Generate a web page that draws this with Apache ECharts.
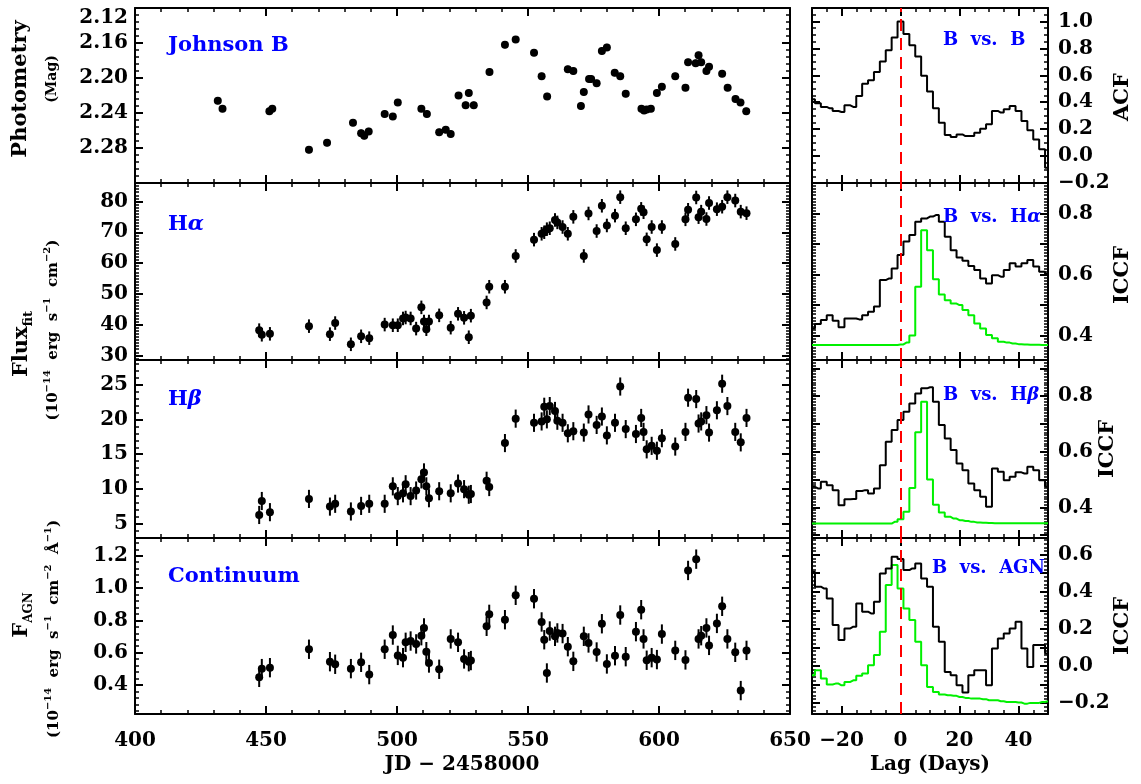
<!DOCTYPE html>
<html>
<head>
<meta charset="utf-8">
<title>Light curves and CCF</title>
<script src="https://cdn.jsdelivr.net/npm/echarts@6/dist/echarts.min.js"></script>
<style>
html, body { margin: 0; padding: 0; background: #fff; }
#chart { width: 1141px; height: 784px; }
</style>
</head>
<body>
<div id="chart"></div>
<script>
// ---- light curves (JD - 2458000) ----
const jdPhot = [431.6, 433.4, 451.3, 452.4, 466.4, 473.3, 483.2, 486.3, 487.5, 489.2,
  495.3, 498.4, 500.3, 509.3, 511.4, 516.1, 518.6, 520.5, 523.5, 526.2,
  527.4, 529.3, 535.3, 541.2, 545.3, 552.3, 555.2, 557.3, 565.2, 567.3,
  570.2, 571.3, 573.3, 574.1, 576.2, 578.2, 580.1, 583.1, 585.2, 587.3,
  593.3, 594.3, 595.3, 596.9, 599.2, 601.1, 606.2, 610.1, 611.1, 614.0,
  615.1, 616.1, 618.1, 619.1, 624.1, 626.2, 629.2, 631.1, 633.3];
const magB = [2.226, 2.235, 2.238, 2.235, 2.282, 2.274, 2.251, 2.263, 2.266, 2.261,
  2.241, 2.244, 2.228, 2.235, 2.241, 2.262, 2.259, 2.264, 2.220, 2.231,
  2.217, 2.231, 2.193, 2.162, 2.156, 2.171, 2.198, 2.221, 2.190, 2.192,
  2.232, 2.216, 2.201, 2.201, 2.206, 2.169, 2.165, 2.194, 2.198, 2.218,
  2.235, 2.237, 2.236, 2.235, 2.217, 2.210, 2.198, 2.211, 2.182, 2.183,
  2.174, 2.182, 2.192, 2.187, 2.195, 2.211, 2.224, 2.228, 2.238];

const jdSpec = [447.4, 448.4, 451.5, 466.4, 474.4, 476.4, 482.4, 486.3, 489.4, 495.3,
  498.4, 500.3, 502.3, 503.3, 505.2, 507.3, 509.3, 510.3, 511.2, 512.2,
  516.1, 520.5, 523.3, 525.6, 527.4, 528.2, 534.2, 535.2, 541.2, 545.3,
  552.3, 555.2, 556.2, 557.2, 558.3, 560.3, 561.2, 563.2, 565.2, 567.3,
  571.3, 573.1, 576.2, 578.2, 580.1, 583.2, 585.2, 587.3, 591.2, 593.2,
  594.1, 595.3, 597.2, 599.2, 601.1, 606.2, 610.1, 611.1, 614.2, 615.1,
  616.1, 618.1, 619.1, 622.1, 624.1, 626.1, 629.1, 631.2, 633.4];
const fluxHa = [38.2, 36.7, 37.0, 39.5, 36.9, 40.5, 33.6, 36.2, 35.6, 40.0,
  39.8, 39.8, 42.0, 42.3, 42.0, 38.7, 45.6, 41.0, 38.5, 41.0,
  43.0, 39.0, 43.5, 42.2, 35.9, 42.9, 47.2, 52.3, 52.3, 62.3,
  67.6, 69.5, 70.0, 71.0, 71.3, 74.0, 73.2, 71.7, 69.5, 75.0,
  62.3, 76.1, 70.4, 78.6, 72.2, 75.4, 81.4, 71.3, 74.2, 77.6,
  76.5, 67.7, 71.7, 64.2, 71.7, 66.2, 74.2, 77.3, 81.3, 74.9,
  76.7, 74.3, 79.5, 77.5, 78.3, 81.4, 80.3, 76.7, 76.2];
const fluxHb = [6.3, 8.3, 6.7, 8.6, 7.5, 7.9, 6.8, 7.6, 7.9, 7.9,
  10.4, 9.0, 9.4, 10.7, 9.0, 9.8, 11.4, 12.4, 10.4, 8.7,
  9.7, 9.4, 10.8, 10.0, 9.2, 9.3, 11.2, 10.3, 16.6, 20.1,
  19.5, 19.7, 21.8, 20.0, 21.9, 21.2, 19.8, 19.5, 18.0, 18.3,
  18.1, 20.7, 19.2, 20.4, 17.7, 19.5, 24.7, 18.6, 17.9, 20.2,
  18.2, 15.7, 16.2, 15.5, 17.3, 16.1, 18.2, 23.1, 22.9, 19.4,
  19.7, 20.6, 18.1, 21.3, 25.1, 21.9, 18.2, 16.7, 20.2];
const fluxAgn = [0.447, 0.501, 0.507, 0.621, 0.544, 0.528, 0.501, 0.540, 0.464, 0.621,
  0.709, 0.583, 0.569, 0.664, 0.672, 0.654, 0.705, 0.753, 0.606, 0.536,
  0.497, 0.685, 0.664, 0.561, 0.544, 0.551, 0.763, 0.837, 0.804, 0.955,
  0.934, 0.790, 0.680, 0.474, 0.734, 0.701, 0.722, 0.718, 0.637, 0.546,
  0.701, 0.660, 0.604, 0.779, 0.530, 0.581, 0.833, 0.575, 0.730, 0.866,
  0.685, 0.553, 0.569, 0.557, 0.715, 0.614, 0.555, 1.109, 1.179, 0.685,
  0.705, 0.753, 0.645, 0.781, 0.887, 0.685, 0.602, 0.365, 0.614];
// typical error bar half-lengths
const errB = 0.004, errHa = 2.2, errHb = 1.3, errAgn = 0.06;

// ---- correlation functions ----
const lags = [-30, -28, -26, -24, -22, -20, -18, -16, -14, -12, -10, -8, -6, -4, -2,
  0, 2, 4, 6, 8, 10, 12, 14, 16, 18, 20, 22, 24, 26, 28, 30, 32, 34, 36, 38, 40,
  42, 44, 46, 48, 50];
const acfB = [0.422, 0.392, 0.365, 0.355, 0.335, 0.328, 0.377, 0.365, 0.447, 0.538,
  0.563, 0.625, 0.702, 0.787, 0.881, 1.000, 0.906, 0.824, 0.739, 0.596,
  0.479, 0.355, 0.248, 0.156, 0.141, 0.161, 0.149, 0.149, 0.174, 0.203,
  0.236, 0.335, 0.323, 0.347, 0.372, 0.335, 0.261, 0.191, 0.124, 0.050, -0.087];
const iccfHa = [0.423, 0.438, 0.451, 0.467, 0.449, 0.427, 0.456, 0.456, 0.453, 0.467,
  0.478, 0.495, 0.582, 0.587, 0.620, 0.664, 0.708, 0.730, 0.773, 0.784,
  0.790, 0.795, 0.773, 0.724, 0.680, 0.656, 0.645, 0.628, 0.615, 0.587,
  0.571, 0.598, 0.593, 0.615, 0.637, 0.626, 0.637, 0.648, 0.626, 0.609, 0.602];
const cccdHa = [0.369, 0.369, 0.369, 0.369, 0.369, 0.369, 0.369, 0.369, 0.369, 0.369,
  0.369, 0.369, 0.369, 0.369, 0.369, 0.371, 0.377, 0.400, 0.560, 0.745,
  0.680, 0.585, 0.535, 0.516, 0.505, 0.500, 0.484, 0.467, 0.440, 0.423,
  0.402, 0.391, 0.380, 0.377, 0.374, 0.372, 0.371, 0.370, 0.370, 0.369, 0.369];
const iccfHb = [0.474, 0.468, 0.492, 0.480, 0.462, 0.408, 0.429, 0.430, 0.459, 0.462,
  0.450, 0.468, 0.552, 0.636, 0.678, 0.714, 0.744, 0.774, 0.810, 0.828,
  0.832, 0.780, 0.696, 0.648, 0.606, 0.558, 0.534, 0.486, 0.462, 0.438,
  0.402, 0.540, 0.528, 0.498, 0.510, 0.526, 0.522, 0.546, 0.534, 0.498, 0.474];
const cccdHb = [0.342, 0.342, 0.342, 0.342, 0.342, 0.342, 0.342, 0.342, 0.342, 0.342,
  0.342, 0.342, 0.342, 0.342, 0.348, 0.357, 0.384, 0.470, 0.670, 0.780,
  0.500, 0.410, 0.382, 0.366, 0.360, 0.354, 0.351, 0.348, 0.346, 0.345,
  0.344, 0.343, 0.343, 0.343, 0.343, 0.343, 0.343, 0.343, 0.343, 0.343, 0.343];
const iccfAgn = [0.508, 0.427, 0.418, 0.364, 0.220, 0.139, 0.202, 0.211, 0.337, 0.292,
  0.283, 0.346, 0.499, 0.526, 0.589, 0.576, 0.517, 0.526, 0.553, 0.472,
  0.427, 0.211, 0.130, -0.033, -0.051, -0.105, -0.144, -0.051, -0.024, -0.024,
  -0.105, 0.094, 0.148, 0.175, 0.202, 0.238, 0.094, -0.006, 0.112, 0.112, 0.067];
const cccdAgn = [-0.051, -0.024, -0.069, -0.101, -0.096, -0.105, -0.087, -0.078, -0.054, -0.042,
  0.003, 0.058, 0.184, 0.436, 0.544, 0.418, 0.310, 0.247, 0.130, 0.003,
  -0.114, -0.141, -0.155, -0.159, -0.162, -0.168, -0.173, -0.177, -0.177, -0.180,
  -0.186, -0.186, -0.191, -0.195, -0.195, -0.198, -0.204, -0.200, -0.200, -0.195, -0.191];

const FONT = '"DejaVu Serif"';
const MINUS = '\u2212';

function zip(xs, ys) { return xs.map((x, i) => [x, ys[i]]); }
function signed(s) { return s.charAt(0) === '-' ? MINUS + s.slice(1) : s; }
// label only on multiples of step (k tenths)
function everyTenth(k, digits) {
    return function (v) {
        let n = v * 10 / k;
        if (Math.abs(n - Math.round(n)) > 1e-6) return '';
        return signed((Math.round(n) * k / 10).toFixed(digits));
    };
}
function everyN(n) {
    return function (v) {
        let q = v / n;
        if (Math.abs(q - Math.round(q)) > 1e-6) return '';
        return String(Math.round(v));
    };
}

// rows: top, height
const rows = [[8, 175], [183, 177], [360, 178], [538, 176]];
const grids = [];
rows.forEach(r => grids.push({ left: 135, top: r[0], width: 655, height: r[1], outerBoundsMode: 'none' }));
rows.forEach(r => grids.push({ left: 812, top: r[0], width: 236, height: r[1], outerBoundsMode: 'none' }));

function axis(gi, pos, sc, showLabel) {
    let ax = {
        type: 'value',
        gridIndex: gi,
        position: pos,
        min: sc.min,
        max: sc.max,
        inverse: !!sc.inverse,
        axisLine: { show: true, onZero: false, lineStyle: { color: '#000', width: 2 } },
        axisTick: { show: true, inside: true, length: 8, lineStyle: { color: '#000', width: 2 } },
        minorTick: { show: true, splitNumber: sc.minor, length: 4, lineStyle: { color: '#000', width: 1.5 } },
        splitLine: { show: false },
        minorSplitLine: { show: false },
        axisLabel: { show: false }
    };
    if (sc.interval != null) ax.interval = sc.interval;
    else ax.splitNumber = sc.split;
    if (showLabel) {
        ax.axisLabel = {
            show: true,
            formatter: sc.fmt,
            color: '#000',
            fontFamily: FONT,
            fontWeight: 'bold',
            fontSize: 20,
            margin: sc.margin,
            showMinLabel: sc.showMin,
            showMaxLabel: sc.showMax
        };
        if (sc.vMin) ax.axisLabel.verticalAlignMinLabel = sc.vMin;
    }
    return ax;
}

const xJd = { min: 400, max: 650, interval: 50, minor: 5, margin: 17, fmt: v => String(v), showMin: true, showMax: true };
const xLag = { min: -30, max: 50, split: 4, minor: 4, margin: 17, fmt: everyN(20), showMin: false, showMax: false };
const xLagSigned = Object.assign({}, xLag, { fmt: v => signed(everyN(20)(v)) });

const yLeft = [
    { min: 2.12, max: 2.32, interval: 0.04, minor: 5, inverse: true, margin: 7, fmt: v => v.toFixed(2), showMin: true, showMax: false, vMin: 'top' },
    { min: 28.5, max: 86, split: 5, minor: 10, margin: 7, fmt: everyN(10), showMin: false, showMax: false },
    { min: 3, max: 28.5, split: 5, minor: 5, margin: 7, fmt: everyN(5), showMin: false, showMax: false },
    { min: 0.22, max: 1.31, split: 5, minor: 5, margin: 7, fmt: everyTenth(2, 1), showMin: false, showMax: false }
];
const yRight = [
    { min: -0.2, max: 1.1, interval: 0.2, minor: 4, margin: 10, fmt: everyTenth(2, 1), showMin: true, showMax: false },
    { min: 0.32, max: 0.9, split: 6, minor: 10, margin: 10, fmt: everyTenth(2, 1), showMin: false, showMax: false },
    { min: 0.29, max: 0.93, split: 6, minor: 10, margin: 10, fmt: everyTenth(2, 1), showMin: false, showMax: false },
    { min: -0.26, max: 0.69, split: 10, minor: 5, margin: 10, fmt: everyTenth(2, 1), showMin: false, showMax: false }
];

const xAxes = [], yAxes = [];
for (let i = 0; i < 4; i++) {
    xAxes.push(axis(i, 'bottom', xJd, i === 3));
    xAxes.push(axis(i, 'top', xJd, false));
    yAxes.push(axis(i, 'left', yLeft[i], true));
    yAxes.push(axis(i, 'right', yLeft[i], false));
}
for (let i = 0; i < 4; i++) {
    let g = 4 + i;
    xAxes.push(axis(g, 'bottom', xLagSigned, i === 3));
    xAxes.push(axis(g, 'top', xLag, false));
    yAxes.push(axis(g, 'left', yRight[i], false));
    yAxes.push(axis(g, 'right', yRight[i], true));
}

function errorBars(gi, xs, ys, err) {
    return {
        type: 'custom',
        xAxisIndex: 2 * gi,
        yAxisIndex: 2 * gi,
        silent: true,
        z: 2,
        data: zip(xs, ys),
        renderItem: function (params, api) {
            let x = api.value(0), y = api.value(1);
            let a = api.coord([x, y - err]);
            let b = api.coord([x, y + err]);
            return {
                type: 'line',
                shape: { x1: a[0], y1: a[1], x2: b[0], y2: b[1] },
                style: { stroke: '#000', lineWidth: 2 }
            };
        }
    };
}
function points(gi, xs, ys) {
    return {
        type: 'scatter',
        xAxisIndex: 2 * gi,
        yAxisIndex: 2 * gi,
        symbol: 'circle',
        symbolSize: 8,
        itemStyle: { color: '#000', opacity: 1 },
        silent: true,
        z: 3,
        data: zip(xs, ys)
    };
}
function stepLine(gi, ys, color, withZero) {
    let s = {
        type: 'line',
        xAxisIndex: 2 * gi,
        yAxisIndex: 2 * gi + 1,
        step: 'middle',
        showSymbol: false,
        silent: true,
        lineStyle: { color: color, width: 2 },
        data: zip(lags, ys),
        z: color === '#000' ? 3 : 2
    };
    if (withZero) {
        s.markLine = {
            silent: true,
            symbol: 'none',
            label: { show: false },
            lineStyle: { color: '#ff0000', width: 2, type: [12, 7] },
            data: [{ xAxis: 0 }]
        };
    }
    return s;
}

const series = [
    errorBars(0, jdPhot, magB, errB), points(0, jdPhot, magB),
    errorBars(1, jdSpec, fluxHa, errHa), points(1, jdSpec, fluxHa),
    errorBars(2, jdSpec, fluxHb, errHb), points(2, jdSpec, fluxHb),
    errorBars(3, jdSpec, fluxAgn, errAgn), points(3, jdSpec, fluxAgn),
    stepLine(4, acfB, '#000', true),
    stepLine(5, cccdHa, '#00f000', false), stepLine(5, iccfHa, '#000', true),
    stepLine(6, cccdHb, '#00f000', false), stepLine(6, iccfHb, '#000', true),
    stepLine(7, cccdAgn, '#00f000', false), stepLine(7, iccfAgn, '#000', true)
];

function txt(x, y, text, font, opt) {
    opt = opt || {};
    return {
        type: 'text',
        x: x, y: y,
        rotation: opt.rot || 0,
        silent: true,
        z: 100,
        style: {
            text: text,
            font: font,
            fill: opt.fill || '#000',
            align: opt.align || 'center',
            verticalAlign: 'middle',
            rich: opt.rich
        }
    };
}
const UP = Math.PI / 2;
const B21 = 'bold 21px ' + FONT;
const unitRich = {
    m: { font: 'bold 15px ' + FONT, lineHeight: 22 },
    u: { font: 'bold 10px ' + FONT, lineHeight: 10, verticalAlign: 'top' }
};
const BLUE = '#0000ff';
const blueRich = {
    r: { font: 'bold 21px ' + FONT },
    i: { font: 'italic bold 21px ' + FONT }
};
const blueRichS = {
    r: { font: 'bold 18px ' + FONT },
    i: { font: 'italic bold 18px ' + FONT }
};

const graphic = [
    // left titles
    txt(21, 89, 'Photometry', B21, { rot: UP }),
    txt(52, 79, '(Mag)', 'bold 14px ' + FONT, { rot: UP }),
    txt(22, 344, '{m|Flux}{s|fit}', B21, { rot: UP, rich: {
        m: { font: B21, lineHeight: 26 },
        s: { font: 'bold 13px ' + FONT, lineHeight: 13, verticalAlign: 'bottom' } } }),
    txt(53, 330, '{m|(10}{u|' + MINUS + '14}{m|  erg  s}{u|' + MINUS + '1}{m|  cm}{u|' + MINUS + '2}{m|)}',
        'bold 15px ' + FONT, { rot: UP, rich: unitRich }),
    txt(22, 615, '{m|F}{s|AGN}', B21, { rot: UP, rich: {
        m: { font: B21, lineHeight: 26 },
        s: { font: 'bold 12px ' + FONT, lineHeight: 12, verticalAlign: 'bottom' } } }),
    txt(54, 629, '{m|(10}{u|' + MINUS + '14}{m|  erg  s}{u|' + MINUS + '1}{m|  cm}{u|' + MINUS + '2}{m|  \u00c5}{u|' + MINUS + '1}{m|)}',
        'bold 15px ' + FONT, { rot: UP, rich: unitRich }),
    // right titles
    txt(1123, 97, 'ACF', B21, { rot: UP }),
    txt(1123, 275, 'ICCF', B21, { rot: UP }),
    txt(1108, 449, 'ICCF', B21, { rot: UP }),
    txt(1123, 626, 'ICCF', B21, { rot: UP }),
    // bottom titles
    txt(462, 765, 'JD ' + MINUS + ' 2458000', 'bold 20px ' + FONT),
    txt(930, 765, 'Lag (Days)', 'bold 20px ' + FONT),
    // panel labels
    txt(168, 46, 'Johnson B', B21, { align: 'left', fill: BLUE }),
    txt(168, 225, '{r|H}{i|\u03b1}', B21, { align: 'left', fill: BLUE, rich: blueRich }),
    txt(168, 400, '{r|H}{i|\u03b2}', B21, { align: 'left', fill: BLUE, rich: blueRich }),
    txt(168, 577, 'Continuum', B21, { align: 'left', fill: BLUE }),
    txt(943, 40, 'B  vs.  B', 'bold 18px ' + FONT, { align: 'left', fill: BLUE }),
    txt(943, 217, '{r|B  vs.  H}{i|\u03b1}', 'bold 18px ' + FONT, { align: 'left', fill: BLUE, rich: blueRichS }),
    txt(943, 395, '{r|B  vs.  H}{i|\u03b2}', 'bold 18px ' + FONT, { align: 'left', fill: BLUE, rich: blueRichS }),
    txt(932, 568, 'B  vs.  AGN', 'bold 18px ' + FONT, { align: 'left', fill: BLUE })
];

let myChart = echarts.init(document.getElementById('chart'));
myChart.setOption({
    animation: false,
    backgroundColor: '#fff',
    grid: grids,
    xAxis: xAxes,
    yAxis: yAxes,
    series: series,
    graphic: graphic
});
window.addEventListener('resize', function () {
    myChart.resize();
});
</script>
</body>
</html>
